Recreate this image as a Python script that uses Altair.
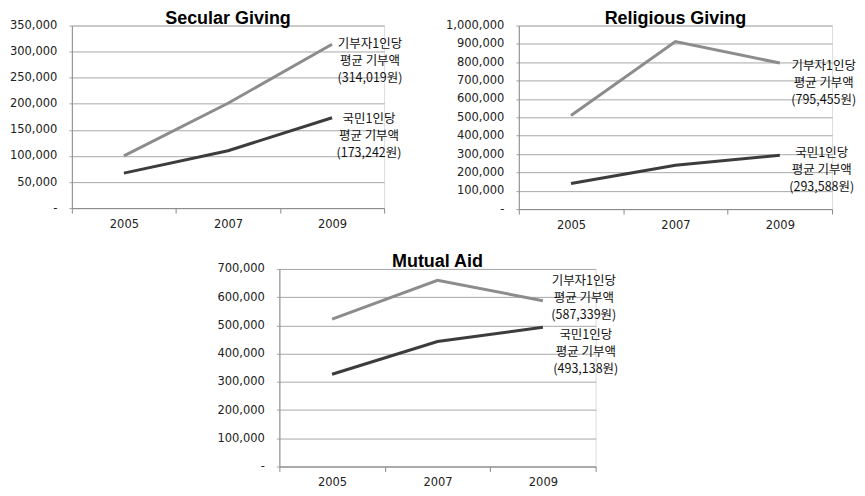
import altair as alt
import pandas as pd

years = ["2005", "2007", "2009"]
titles = ["Secular Giving", "Religious Giving", "Mutual Aid"]
donor_vals = {
    "Secular Giving": [100000, 201000, 314019],
    "Religious Giving": [510000, 913000, 795455],
    "Mutual Aid": [522000, 660000, 587339],
}
citizen_vals = {
    "Secular Giving": [67000, 110000, 173242],
    "Religious Giving": [139000, 239000, 293588],
    "Mutual Aid": [327000, 443000, 493138],
}
donor_labels = {
    "Secular Giving": ["기부자1인당", "평균 기부액", "(314,019원)"],
    "Religious Giving": ["기부자1인당", "평균 기부액", "(795,455원)"],
    "Mutual Aid": ["기부자1인당", "평균 기부액", "(587,339원)"],
}
citizen_labels = {
    "Secular Giving": ["국민1인당", "평균 기부액", "(173,242원)"],
    "Religious Giving": ["국민1인당", "평균 기부액", "(293,588원)"],
    "Mutual Aid": ["국민1인당", "평균 기부액", "(493,138원)"],
}
y_max = {"Secular Giving": 350000, "Religious Giving": 1000000, "Mutual Aid": 700000}
y_step = {"Secular Giving": 50000, "Religious Giving": 100000, "Mutual Aid": 100000}

# label offsets (dx, dy) per panel for donor / citizen label blocks
label_off = {
    "Secular Giving": ((38, 0), (37, 1)),
    "Religious Giving": ((44, 3), (42, -2)),
    "Mutual Aid": ((41, -20), (43, 8)),
}
sizes = {"Secular Giving": (313, 183), "Religious Giving": (314, 184), "Mutual Aid": (317, 198)}

GRAY = "#8c8c8c"
DARK = "#3c3c3c"


def panel(name):
    w, h = sizes[name]
    rows = []
    for yr, v in zip(years, donor_vals[name]):
        rows.append({"year": yr, "value": v, "series": "donor"})
    for yr, v in zip(years, citizen_vals[name]):
        rows.append({"year": yr, "value": v, "series": "citizen"})
    df = pd.DataFrame(rows)
    ticks = list(range(0, y_max[name] + 1, y_step[name]))
    x = alt.X(
        "year:O",
        bandPosition=0.5,
        scale=alt.Scale(type="band", paddingInner=0, paddingOuter=0),
        axis=alt.Axis(
            title=None, labelAngle=0, tickBand="extent", grid=False,
            domainColor="#8a8a8a", tickColor="#8a8a8a", tickSize=5,
            labelFont="DejaVu Sans", labelFontSize=11.5, labelColor="#222222",
            labelPadding=5,
        ),
    )
    y = alt.Y(
        "value:Q",
        scale=alt.Scale(domain=[0, y_max[name]], nice=False),
        axis=alt.Axis(
            title=None, values=ticks, grid=True, gridColor="#a8a8a8",
            domainColor="#8a8a8a", tickColor="#a8a8a8", tickSize=3,
            labelExpr="datum.value == 0 ? '-' : format(datum.value, ',')",
            labelFont="DejaVu Sans", labelFontSize=11.5, labelColor="#222222",
            labelPadding=12,
        ),
    )
    base = alt.Chart(df)
    lines = base.mark_line(strokeWidth=3).encode(
        x=x, y=y,
        color=alt.Color("series:N", scale=alt.Scale(domain=["donor", "citizen"], range=[GRAY, DARK]), legend=None),
    )
    (ddx, ddy), (cdx, cdy) = label_off[name]
    lab_df = pd.DataFrame([
        {"year": "2009", "value": donor_vals[name][2], "txt": donor_labels[name], "series": "donor"},
    ])
    lab_df2 = pd.DataFrame([
        {"year": "2009", "value": citizen_vals[name][2], "txt": citizen_labels[name], "series": "citizen"},
    ])
    t1 = alt.Chart(lab_df).mark_text(
        font="Noto Sans CJK KR", fontSize=12.5, lineHeight=17, align="center",
        baseline="middle", dx=ddx, dy=ddy, color="#111111",
    ).encode(x=x, y=y, text="txt")
    t2 = alt.Chart(lab_df2).mark_text(
        font="Noto Sans CJK KR", fontSize=12.5, lineHeight=17, align="center",
        baseline="middle", dx=cdx, dy=cdy, color="#111111",
    ).encode(x=x, y=y, text="txt")
    return alt.layer(lines, t1, t2).properties(
        width=w, height=h,
        title=alt.TitleParams(
            name, font="Liberation Sans", fontSize=18, fontWeight="bold",
            color="#000000", offset=-8, anchor="middle",
        ),
    )


p1 = panel("Secular Giving")
p2 = panel("Religious Giving")
p3 = panel("Mutual Aid")

spacer = alt.Chart(pd.DataFrame({"a": [0]})).mark_point(opacity=0, size=1).encode(
    x=alt.value(0), y=alt.value(0)
).properties(
    width=188, height=198,
    view=alt.ViewBackground(stroke="transparent", fill="transparent", strokeOpacity=0),
)

row1 = alt.hconcat(p1, p2, spacing=135, bounds="flush")
row2 = alt.hconcat(spacer, p3, spacing=20, bounds="flush")
chart = alt.vconcat(row1, row2, spacing=21).configure_view(
    stroke="transparent", strokeOpacity=0, fillOpacity=0
).configure(padding=0, background="white")

chart.save("out.html", embed_options={"renderer": "svg", "actions": False})
